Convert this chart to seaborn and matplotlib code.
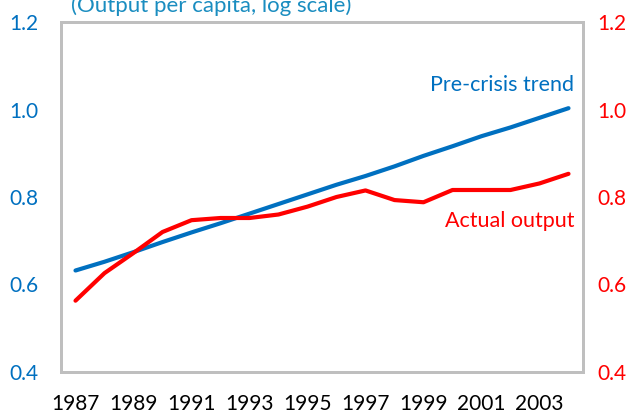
import numpy as np
import pandas as pd
import seaborn as sns
import matplotlib.pyplot as plt

years = list(range(1987, 2005))
trend = [0.632, 0.652, 0.674, 0.697, 0.719, 0.740, 0.762, 0.784, 0.806,
         0.828, 0.848, 0.870, 0.894, 0.916, 0.939, 0.959, 0.981, 1.003]
actual = [0.563, 0.626, 0.672, 0.720, 0.747, 0.752, 0.752, 0.760, 0.778,
          0.800, 0.815, 0.793, 0.788, 0.816, 0.816, 0.816, 0.831, 0.853]
year_labels = [str(y) if (y - 1987) % 2 == 0 else "" for y in years]
yticks = [0.4, 0.6, 0.8, 1.0, 1.2]

blue = "#0070C0"
red = "#FF0000"
grey = "#BFBFBF"

sns.set_style("white")
plt.rcParams['font.family'] = ['Lato', 'DejaVu Sans']

df = pd.DataFrame({"pos": np.arange(len(years)), "trend": trend, "actual": actual})

fig, ax = plt.subplots(figsize=(6.34, 4.13), dpi=100)
fig.subplots_adjust(left=61 / 634, right=583 / 634, top=1 - 22 / 413, bottom=1 - 372 / 413)
ax2 = ax.twinx()

sns.lineplot(data=df, x="pos", y="trend", ax=ax, color=blue, linewidth=3)
sns.lineplot(data=df, x="pos", y="actual", ax=ax2, color=red, linewidth=3)

for a in (ax, ax2):
    a.set_xlim(-0.5, len(years) - 0.5)
    a.set_ylim(0.4, 1.2)
    a.set_yticks(yticks)
    a.set_ylabel("")
    a.set_xlabel("")
    for s in a.spines.values():
        s.set_color(grey)
        s.set_linewidth(2)

ax.set_xticks(df["pos"])
ax.set_xticklabels(year_labels)
ax.tick_params(axis="x", length=0, pad=16, labelsize=15, labelcolor="black")
ax.tick_params(axis="y", length=0, pad=16, labelsize=15, labelcolor=blue)
ax.set_yticklabels([f"{v:.1f}" for v in yticks])
ax2.tick_params(axis="y", length=0, pad=10, labelsize=15, labelcolor=red)
ax2.set_yticklabels([f"{v:.1f}" for v in yticks])

ax.text(17.2, 1.056, "Pre-crisis trend", color=blue, fontsize=15.5, ha="right", va="center")
ax2.text(17.2, 0.745, "Actual output", color=red, fontsize=15.5, ha="right", va="center")

fig.text(71 / 634, 1 - 12 / 413, "(Output per capita, log scale)", color="#1A8DC0",
         fontsize=16, ha="left", va="baseline")

plt.savefig("out.png", dpi=100)
